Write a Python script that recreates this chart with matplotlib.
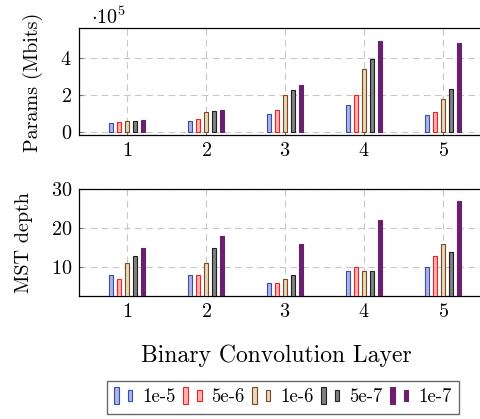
import matplotlib
matplotlib.use('Agg')
import matplotlib.pyplot as plt
from matplotlib.patches import Rectangle
from matplotlib.legend_handler import HandlerBase
import numpy as np

plt.rcParams['font.family'] = 'serif'
plt.rcParams['font.serif'] = ['cmr10', 'DejaVu Serif']
plt.rcParams['mathtext.fontset'] = 'cm'
plt.rcParams['axes.formatter.use_mathtext'] = True
plt.rcParams['font.size'] = 14.5

# 数据
layers = [1, 2, 3, 4, 5]
series = ['1e-5', '5e-6', '1e-6', '5e-7', '1e-7']
# 参数量 (单位 1e5)
params = [
    [0.47, 0.58, 0.94, 1.46, 0.92],
    [0.52, 0.72, 1.21, 1.98, 1.10],
    [0.58, 1.05, 1.98, 3.43, 1.77],
    [0.61, 1.14, 2.29, 3.97, 2.32],
    [0.63, 1.21, 2.56, 4.92, 4.79],
]
depth = [
    [8, 8, 6, 9, 10],
    [7, 8, 6, 10, 13],
    [11, 11, 7, 9, 16],
    [13, 15, 8, 9, 14],
    [15, 18, 16, 22, 27],
]

faces = ['#b3b3e0', '#ffb3b3', '#e8d6c2', '#808080', '#6b1f6f']
edges = ['#3050b0', '#f02020', '#7a4a1a', '#202020', '#6b1f6f']
offsets = [-0.2, -0.1, 0.0, 0.1, 0.2]
w = 0.045

fig = plt.figure(figsize=(4.81, 4.19), dpi=100)
ax1 = fig.add_axes([0.164, 0.677, 0.85, 0.255])
ax2 = fig.add_axes([0.164, 0.294, 0.85, 0.255])

x = np.array(layers)
for i in range(len(series)):
    ax1.bar(x + offsets[i], params[i], w, color=faces[i], edgecolor=edges[i], linewidth=0.8, zorder=3)
    ax2.bar(x + offsets[i], depth[i], w, color=faces[i], edgecolor=edges[i], linewidth=0.8, zorder=3)

for ax in (ax1, ax2):
    ax.set_xlim(0.39, 0.39 + 0.85 * 481 / 79)
    ax.set_xticks(layers)
    ax.grid(True, color='#c8c8c8', linestyle=(0, (6, 4)), linewidth=0.8, zorder=0)
    ax.tick_params(direction='in', length=3, color='#777777', pad=5)
    for s in ax.spines.values():
        s.set_linewidth(0.9)

ax1.set_ylim(-0.19, 5.6)
ax1.set_yticks([0, 2, 4])
ax1.set_ylabel('Params (Mbits)', labelpad=12.5)
ax1.text(0.03, 1.0, r'$\cdot 10^5$', transform=ax1.transAxes, fontsize=14.5, va='bottom')

ax2.set_ylim(2.7, 30)
ax2.set_yticks([10, 20, 30])
ax2.set_ylabel('MST depth', labelpad=12.5)

fig.text(0.574, 0.152, 'Binary Convolution Layer', ha='center', va='center', fontsize=17)


class TwoBars(HandlerBase):# 图例中画两个小柱
    def create_artists(self, legend, orig, xd, yd, width, height, fontsize, trans):
        fc = orig.get_facecolor()
        ec = orig.get_edgecolor()
        r1 = Rectangle((xd + 0.0 * width, yd - 0.15 * height), 0.22 * width, 1.3 * height,
                       facecolor=fc, edgecolor=ec, lw=0.8, transform=trans)
        r2 = Rectangle((xd + 0.6 * width, yd + 0.05 * height), 0.22 * width, 0.9 * height,
                       facecolor=fc, edgecolor=ec, lw=0.8, transform=trans)
        return [r1, r2]


handles = [Rectangle((0, 0), 1, 1, facecolor=faces[i], edgecolor=edges[i]) for i in range(len(series))]
fig.legend(handles, series, handler_map={Rectangle: TwoBars()}, loc='upper center',
           bbox_to_anchor=(0.588, 0.114), ncol=5, frameon=True, fancybox=False,
           edgecolor='#444444', handlelength=1.2, handletextpad=0.3, columnspacing=0.4,
           borderpad=0.4, fontsize=13.5)

fig.savefig('out.png', dpi=100)
